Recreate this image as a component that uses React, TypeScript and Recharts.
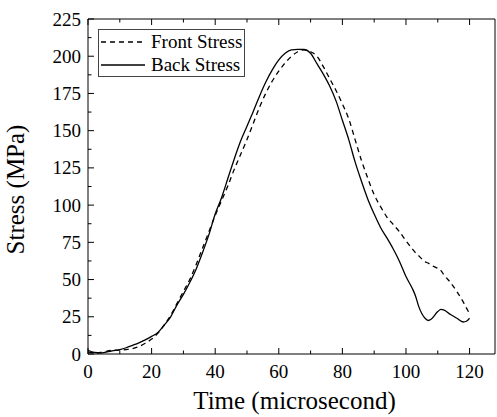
import { LineChart, Line, XAxis, YAxis } from "recharts";

// time in microseconds
const time = [
  0, 2, 4, 6, 8, 10, 12, 14, 16, 18, 20, 22, 24, 26, 28, 30, 32, 34, 36, 38,
  40, 42, 44, 46, 48, 50, 52, 54, 56, 58, 60, 62, 64, 66, 68, 70, 72, 74, 76,
  78, 80, 82, 84, 86, 88, 90, 92, 94, 96, 98, 100, 102, 103, 104, 106, 107,
  108, 110, 111, 112, 114, 116, 118, 119, 120,
];

const frontStress = [
  1.5, 0.8, 1, 2, 2.5, 2.6, 3, 3.6, 5, 7.2, 10, 14, 19.5, 26, 34, 42, 50, 60,
  71, 82, 93, 103, 113, 124, 134, 144, 155, 166, 175.5, 183.5, 190, 195.5, 200,
  203, 204.3, 203, 200, 193, 185, 177, 168, 158, 144, 130, 118, 107, 99, 92,
  87, 82, 76, 70.5, 68, 66, 62, 61, 59.5, 57.5, 56, 53, 48, 42, 35, 31, 27,
];

const backStress = [
  2.5, 1, 0.7, 1.5, 2.2, 3, 4.2, 5.8, 7.5, 9.5, 11.8, 14.5, 19.5, 25, 33, 40,
  48, 57, 68, 80, 94, 105, 118, 131, 143, 153, 163, 173.5, 183, 191, 197.5, 202,
  204.3, 204.6, 204.5, 202, 195, 188, 180, 170, 157, 144, 129, 116, 104, 94,
  85, 78, 70.5, 62, 52, 44, 39, 32, 24, 22.5, 23.5, 28.5, 30, 29.5, 26.5, 24,
  21.5, 22, 24,
];

const xMajor = [0, 20, 40, 60, 80, 100, 120];
const xMinor = [10, 30, 50, 70, 90, 110];
const yMajor = [0, 25, 50, 75, 100, 125, 150, 175, 200, 225];
const yMinor = [12.5, 37.5, 62.5, 87.5, 112.5, 137.5, 162.5, 187.5, 212.5];

const data = time.map((t, i) => ({
  t,
  front: frontStress[i],
  back: backStress[i],
}));

const FONT = "'Liberation Serif', 'Times New Roman', serif";

const BottomTick = ({ x, y, payload }: any) => {
  const major = xMajor.includes(payload.value);
  return (
    <g>
      <line x1={x} x2={x} y1={y} y2={y - (major ? 6 : 3.5)} stroke="#000" />
      {major && (
        <text x={x} y={y + 24} textAnchor="middle" fontSize={19} fontFamily={FONT} fill="#000">
          {payload.value}
        </text>
      )}
    </g>
  );
};

const TopTick = ({ x, y, payload }: any) => {
  const major = xMajor.includes(payload.value);
  return <line x1={x} x2={x} y1={y} y2={y + (major ? 6 : 3.5)} stroke="#000" />;
};

const LeftTick = ({ x, y, payload }: any) => {
  const major = yMajor.includes(payload.value);
  return (
    <g>
      <line x1={x} x2={x + (major ? 6 : 3.5)} y1={y} y2={y} stroke="#000" />
      {major && (
        <text x={x - 7} y={y + 6.5} textAnchor="end" fontSize={19} fontFamily={FONT} fill="#000">
          {payload.value}
        </text>
      )}
    </g>
  );
};

const RightTick = ({ x, y, payload }: any) => {
  const major = yMajor.includes(payload.value);
  return <line x1={x - (major ? 6 : 3.5)} x2={x} y1={y} y2={y} stroke="#000" />;
};

export default function App() {
  return (
    <div style={{ position: "absolute", left: 0, top: 0, width: 497, height: 417 }}>
      <LineChart
        width={497}
        height={417}
        data={data}
        margin={{ top: 18, right: 1, bottom: 3, left: 28 }}
      >
        <XAxis
          dataKey="t"
          type="number"
          domain={[0, 128]}
          ticks={[...xMajor, ...xMinor]}
          interval={0}
          height={60}
          tickSize={0}
          tickMargin={0}
          tickLine={false}
          tick={<BottomTick />}
          stroke="#000"
          label={{
            content: ({ viewBox }: any) => (
              <text
                x={viewBox.x + viewBox.width / 2 + 3}
                y={viewBox.y + 55}
                textAnchor="middle"
                fontSize={25}
                fontFamily={FONT}
                fill="#000"
              >
                Time (microsecond)
              </text>
            ),
          }}
        />
        <XAxis
          xAxisId="top"
          orientation="top"
          dataKey="t"
          type="number"
          domain={[0, 128]}
          ticks={[...xMajor, ...xMinor]}
          interval={0}
          height={1}
          tickSize={0}
          tickMargin={0}
          tickLine={false}
          tick={<TopTick />}
          stroke="#000"
        />
        <YAxis
          type="number"
          domain={[0, 225]}
          ticks={[...yMajor, ...yMinor]}
          interval={0}
          width={60}
          tickSize={0}
          tickMargin={0}
          tickLine={false}
          tick={<LeftTick />}
          stroke="#000"
          label={{
            content: ({ viewBox }: any) => {
              const cx = viewBox.x + viewBox.width - 64;
              const cy = viewBox.y + viewBox.height / 2 + 3;
              return (
                <text
                  x={cx}
                  y={cy}
                  transform={`rotate(-90 ${cx} ${cy})`}
                  textAnchor="middle"
                  fontSize={25}
                  fontFamily={FONT}
                  fill="#000"
                >
                  Stress (MPa)
                </text>
              );
            },
          }}
        />
        <YAxis
          yAxisId="right"
          orientation="right"
          type="number"
          domain={[0, 225]}
          ticks={[...yMajor, ...yMinor]}
          interval={0}
          width={1}
          tickSize={0}
          tickMargin={0}
          tickLine={false}
          tick={<RightTick />}
          stroke="#000"
        />
        <Line
          type="monotone"
          dataKey="front"
          stroke="#000"
          strokeWidth={1.3}
          strokeDasharray="5 4"
          dot={false}
          isAnimationActive={false}
        />
        <Line
          type="monotone"
          dataKey="back"
          stroke="#000"
          strokeWidth={1.3}
          dot={false}
          isAnimationActive={false}
        />
      </LineChart>

      {/* Legend box */}
      <div
        style={{
          position: "absolute",
          left: 98,
          top: 29,
          width: 145,
          height: 46,
          border: "1px solid #444",
          background: "#fff",
          fontFamily: FONT,
          fontSize: 19,
          color: "#000",
        }}
      >
        {[
          { name: "Front Stress", dash: "5 4" },
          { name: "Back Stress", dash: undefined },
        ].map((item, i) => (
          <div
            key={item.name}
            style={{
              position: "absolute",
              left: 0,
              top: i * 23,
              height: 23,
              display: "flex",
              alignItems: "center",
              whiteSpace: "nowrap",
            }}
          >
            <svg width={46} height={10} style={{ marginLeft: 2 }}>
              <line
                x1={0}
                x2={44}
                y1={5}
                y2={5}
                stroke="#000"
                strokeWidth={1.3}
                strokeDasharray={item.dash}
              />
            </svg>
            <span style={{ marginLeft: 4, lineHeight: "23px" }}>{item.name}</span>
          </div>
        ))}
      </div>
    </div>
  );
}
